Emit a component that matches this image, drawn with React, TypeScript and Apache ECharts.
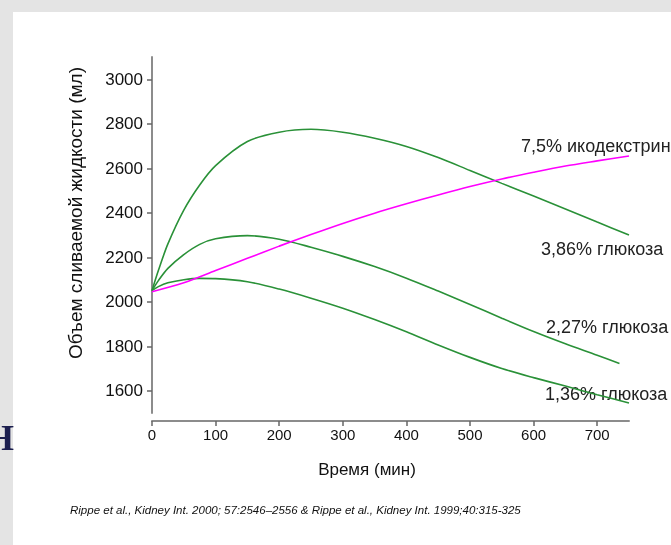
import React, { useEffect, useRef } from "react";
import * as echarts from "echarts";

const timesStd = [0, 10, 25, 50, 75, 100, 150, 200, 250, 300, 350, 400, 450, 500, 550, 600, 650, 700, 750];
const times227 = [0, 10, 25, 50, 75, 100, 150, 200, 250, 300, 350, 400, 450, 500, 550, 600, 650, 700, 735];
const timesIco = [0, 50, 100, 150, 200, 250, 300, 350, 400, 450, 500, 550, 600, 650, 700, 750];

const glucose386 = [2050, 2140, 2260, 2412, 2525, 2612, 2720, 2762, 2775, 2762, 2735, 2698, 2648, 2590, 2532, 2475, 2417, 2358, 2300];
const glucose227 = [2050, 2095, 2150, 2212, 2258, 2283, 2297, 2281, 2245, 2204, 2158, 2106, 2048, 1988, 1926, 1866, 1811, 1760, 1723];
const glucose136 = [2050, 2068, 2085, 2099, 2105, 2104, 2090, 2057, 2016, 1971, 1920, 1865, 1806, 1750, 1700, 1659, 1621, 1582, 1545];
const icodextrin = [2045, 2085, 2140, 2195, 2250, 2302, 2352, 2398, 2440, 2480, 2518, 2552, 2582, 2610, 2633, 2655];

const yTicks = [1600, 1800, 2000, 2200, 2400, 2600, 2800, 3000];
const xTicks = [0, 100, 200, 300, 400, 500, 600, 700];

const seriesLabels = ["7,5% икодекстрин", "3,86% глюкоза", "2,27% глюкоза", "1,36% глюкоза"];
const yTitle = "Объем сливаемой жидкости (мл)";
const xTitle = "Время (мин)";
const citation = "Rippe et al., Kidney Int. 2000; 57:2546–2556 & Rippe et al., Kidney Int. 1999;40:315-325";

const zip = (t: number[], v: number[]) => t.map((x, i) => [x, v[i]]);

const GREEN = "#2a9138";
const MAGENTA = "#ff00ff";
const FONT = "'Liberation Sans', Arial, sans-serif";

export default function App() {
  const ref = useRef<HTMLDivElement>(null);
  useEffect(() => {
    if (!ref.current) return;
    const chart = echarts.init(ref.current, undefined, { renderer: "svg" });
    const lineSeries = (data: number[][], color: string) => ({
      type: "line",
      data,
      smooth: 0.3,
      showSymbol: false,
      symbol: "none",
      lineStyle: { color, width: 1.6 },
      z: 3,
    });
    chart.setOption({
      animation: false,
      backgroundColor: "transparent",
      grid: { left: 152, right: 42, top: 57, bottom: 132 },
      xAxis: {
        type: "value",
        min: 0,
        max: 750,
        offset: 8,
        axisLine: { show: true, lineStyle: { color: "#8c8c8c", width: 2 } },
        axisTick: { show: true, customValues: xTicks, length: 5, lineStyle: { color: "#666", width: 1.5 } },
        axisLabel: { customValues: xTicks, formatter: (v: number) => String(v), color: "#111", fontSize: 15, fontFamily: FONT, margin: 6 },
        splitLine: { show: false },
      },
      yAxis: {
        type: "value",
        min: 1500,
        max: 3100,
        axisLine: { show: true, lineStyle: { color: "#8c8c8c", width: 2 } },
        axisTick: { show: true, customValues: yTicks, length: 5, lineStyle: { color: "#666", width: 1.5 } },
        axisLabel: { customValues: yTicks, formatter: (v: number) => String(v), color: "#111", fontSize: 17, fontFamily: FONT, margin: 9 },
        splitLine: { show: false },
      },
      graphic: [
        { type: "rect", z: -10, shape: { x: 0, y: 0, width: 671, height: 545 }, style: { fill: "#e4e4e4" }, silent: true },
        { type: "rect", z: -9, shape: { x: 13, y: 12, width: 658, height: 533 }, style: { fill: "#ffffff" }, silent: true },
        {
          type: "text", x: 14, y: 456, z: 5,
          style: { text: "Н", fill: "#1c1f4f", font: "bold 36px 'Liberation Serif', 'DejaVu Serif', serif", textAlign: "right", textVerticalAlign: "bottom" },
        },
        {
          type: "text", x: 75, y: 213, rotation: Math.PI / 2,
          style: { text: yTitle, fill: "#111", font: `19px ${FONT}`, textAlign: "center", textVerticalAlign: "middle" },
        },
        {
          type: "text", x: 367, y: 469,
          style: { text: xTitle, fill: "#111", font: `17px ${FONT}`, textAlign: "center", textVerticalAlign: "middle" },
        },
        {
          type: "text", x: 70, y: 510,
          style: { text: citation, fill: "#111", font: `italic 11.5px ${FONT}`, textAlign: "left", textVerticalAlign: "middle" },
        },
        { type: "text", x: 521, y: 146, style: { text: seriesLabels[0], fill: "#222", font: `18px ${FONT}`, textAlign: "left", textVerticalAlign: "middle" } },
        { type: "text", x: 541, y: 249, style: { text: seriesLabels[1], fill: "#222", font: `18px ${FONT}`, textAlign: "left", textVerticalAlign: "middle" } },
        { type: "text", x: 546, y: 327, style: { text: seriesLabels[2], fill: "#222", font: `18px ${FONT}`, textAlign: "left", textVerticalAlign: "middle" } },
        { type: "text", x: 545, y: 394, style: { text: seriesLabels[3], fill: "#222", font: `18px ${FONT}`, textAlign: "left", textVerticalAlign: "middle" } },
      ],
      series: [
        lineSeries(zip(timesStd, glucose386), GREEN),
        lineSeries(zip(times227, glucose227), GREEN),
        lineSeries(zip(timesStd, glucose136), GREEN),
        lineSeries(zip(timesIco, icodextrin), MAGENTA),
      ],
    });
    return () => chart.dispose();
  }, []);
  return <div ref={ref} style={{ position: "fixed", left: 0, top: 0, width: 671, height: 545 }} />;
}
